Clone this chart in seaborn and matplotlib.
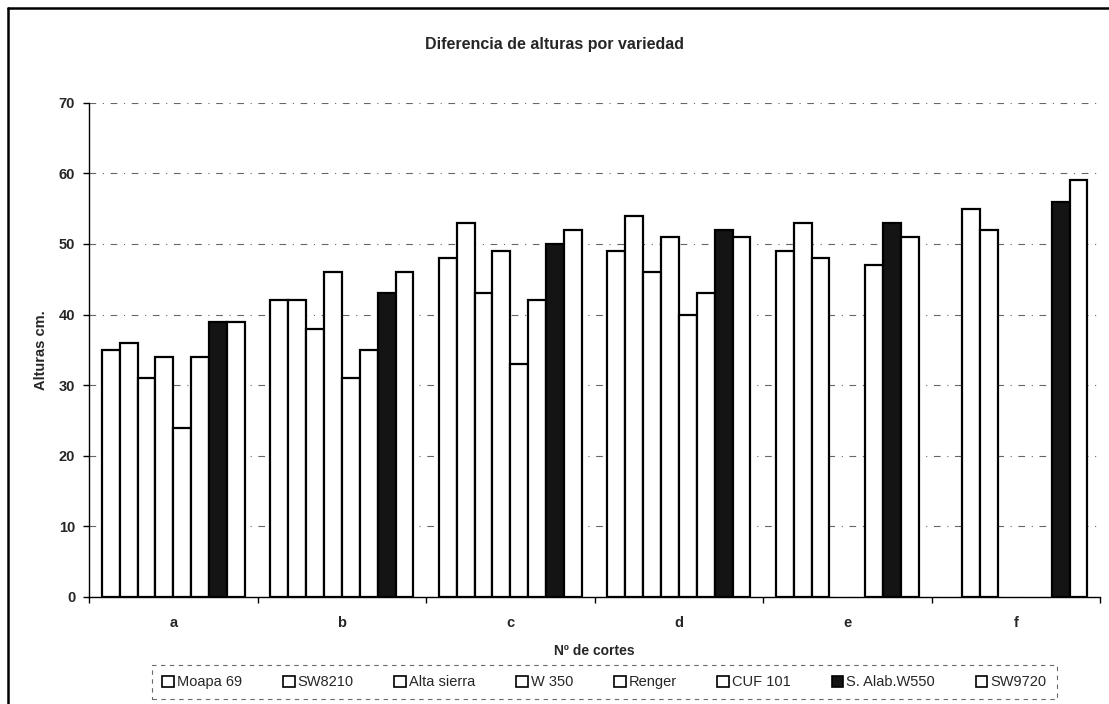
import numpy as np
import pandas as pd
import matplotlib
matplotlib.use("Agg")
import matplotlib.pyplot as plt
from matplotlib.lines import Line2D
from matplotlib.patches import Patch
import seaborn as sns

# Cutting rounds (x categories) and varieties (hue)
cortes = ["a", "b", "c", "d", "e", "f"]
variedades = ["Moapa 69", "SW8210", "Alta sierra", "W 350", "Renger",
              "CUF 101", "S. Alab.W550", "SW9720"]

# Heights (cm) per variety, one value per cut; None = not measured
moapa_69 = [35, 42, 48, 49, 49, None]
sw8210 = [36, 42, 53, 54, 53, 55]
alta_sierra = [31, 38, 43, 46, 48, 52]
w_350 = [34, 46, 49, 51, None, None]
renger = [24, 31, 33, 40, None, None]
cuf_101 = [34, 35, 42, 43, 47, None]
s_alab_w550 = [39, 43, 50, 52, 53, 56]
sw9720 = [39, 46, 52, 51, 51, 59]

series = [moapa_69, sw8210, alta_sierra, w_350, renger, cuf_101,
          s_alab_w550, sw9720]

rows = []
for name, vals in zip(variedades, series):
    for c, v in zip(cortes, vals):
        if v is not None:
            rows.append({"corte": c, "variedad": name, "altura": v})
df = pd.DataFrame(rows)

sns.set_theme(style="white")
plt.rcParams["font.family"] = ["Liberation Sans", "DejaVu Sans"]

face = {v: "white" for v in variedades}
face["S. Alab.W550"] = "#141414"

fig = plt.figure(figsize=(11.09, 7.04), dpi=100)
ax = fig.add_axes([0.0803, 0.152, 0.9117, 0.702])

sns.barplot(data=df, x="corte", y="altura", hue="variedad",
            order=cortes, hue_order=variedades, palette=face,
            width=0.85, gap=0, dodge=True, errorbar=None,
            edgecolor="black", linewidth=1.6, saturation=1,
            legend=False, ax=ax, zorder=3)

ax.set_ylim(0, 70)
ax.set_xlim(-0.5, len(cortes) - 0.5)
ax.set_yticks(np.arange(0, 71, 10))
ax.yaxis.grid(True, color="#666666", linestyle=(0, (6, 6, 1, 6)),
              linewidth=0.8, zorder=0)
ax.xaxis.grid(False)

for side in ["top", "right"]:
    ax.spines[side].set_visible(False)
for side in ["left", "bottom"]:
    ax.spines[side].set_color("black")
    ax.spines[side].set_linewidth(1.0)

ax.tick_params(axis="y", which="major", direction="out", length=4,
               width=1, color="black", left=True, labelsize=10.5, pad=6)
ax.tick_params(axis="x", which="major", length=0, labelsize=10.5, pad=14)
ax.set_xticks(np.arange(-0.5, len(cortes)), minor=True)
ax.tick_params(axis="x", which="minor", direction="out", length=4,
               width=1, color="black", bottom=True)
for lbl in ax.get_xticklabels() + ax.get_yticklabels():
    lbl.set_fontweight("bold")

ax.set_xlabel("Nº de cortes", fontsize=10, fontweight="bold", labelpad=10)
ax.set_ylabel("Alturas cm.", fontsize=10.5, fontweight="bold", labelpad=8)

fig.text(0.5, 0.937, "Diferencia de alturas por variedad", ha="center",
         va="center", fontsize=11.5, fontweight="bold")

handles = [Patch(facecolor=face[v], edgecolor="black", linewidth=1.2, label=v)
           for v in variedades]
leg = fig.legend(handles=handles, loc="center", ncol=8,
                 bbox_to_anchor=(0.545, 0.031), frameon=True, fontsize=10.5,
                 handlelength=0.8, handleheight=0.8, handletextpad=0.2,
                 columnspacing=2.8, borderpad=0.7, fancybox=False)
leg.get_frame().set_edgecolor("#444444")
leg.get_frame().set_linestyle((0, (4, 4)))
leg.get_frame().set_linewidth(0.8)

# Outer chart border (left and top edges)
fig.add_artist(Line2D([8 / 1109, 8 / 1109], [0, 1 - 8 / 704],
                      transform=fig.transFigure, color="black", lw=1.8))
fig.add_artist(Line2D([8 / 1109, 1], [1 - 8 / 704, 1 - 8 / 704],
                      transform=fig.transFigure, color="black", lw=1.8))

fig.savefig("out.png", dpi=100)
